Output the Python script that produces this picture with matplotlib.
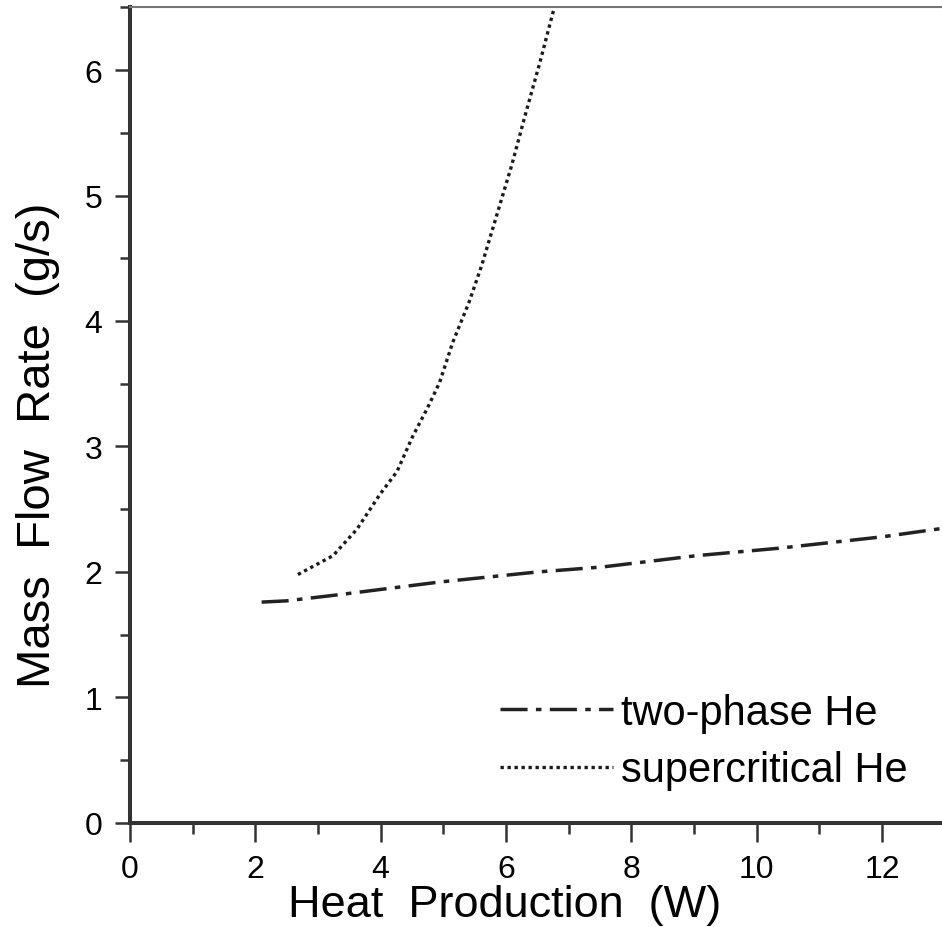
import matplotlib
matplotlib.use("Agg")
import matplotlib.pyplot as plt
from matplotlib.ticker import MultipleLocator
import numpy as np

plt.rcParams['font.family'] = ['Liberation Sans', 'DejaVu Sans']

# two-phase He (dash-dot)
heat_2ph = [2.1, 2.5, 3.35, 4.94, 6.5, 7.54, 9.04, 10.37, 12.0, 13.0]
flow_2ph = [1.76, 1.77, 1.82, 1.92, 2.00, 2.04, 2.13, 2.19, 2.28, 2.35]

# supercritical He (dotted)
heat_sc = [2.68, 3.24, 3.62, 3.99, 4.26, 4.51, 4.74, 4.94, 5.15, 5.41,
           5.61, 5.85, 6.09, 6.30, 6.54, 6.75, 6.80]
flow_sc = [1.98, 2.13, 2.34, 2.62, 2.80, 3.08, 3.30, 3.51, 3.83, 4.15,
           4.44, 4.84, 5.24, 5.63, 6.06, 6.46, 6.56]

fig = plt.figure(figsize=(9.42, 9.28), dpi=100)
ax = fig.add_axes([0.138, 0.1121, 0.8649, 0.879])

ax.plot(heat_2ph, flow_2ph, color='#222222', lw=2.5,
        dashes=(7.8, 2.4, 1.6, 2.4), label='two-phase He')
ax.plot(heat_sc, flow_sc, color='#1a1a1a', lw=2.4,
        dashes=(1.0, 1.1), label='supercritical He')

ax.set_xlim(0, 13)
ax.set_ylim(0, 6.5)
ax.xaxis.set_major_locator(MultipleLocator(2))
ax.xaxis.set_minor_locator(MultipleLocator(1))
ax.yaxis.set_major_locator(MultipleLocator(1))
ax.yaxis.set_minor_locator(MultipleLocator(0.5))

ax.spines['right'].set_visible(False)
for s in ['left', 'bottom']:
    ax.spines[s].set_linewidth(2.9)
    ax.spines[s].set_color('#333333')
ax.spines['top'].set_linewidth(1.5)
ax.spines['top'].set_color('#777777')

ax.tick_params(axis='x', which='major', direction='out', length=14, width=1.8,
               color='#333333', pad=8, labelsize=23)
ax.tick_params(axis='x', which='minor', direction='out', length=8, width=1.8,
               color='#333333')
ax.tick_params(axis='y', which='major', direction='out', length=11, width=1.8,
               color='#333333', pad=9, labelsize=23)
ax.tick_params(axis='y', which='minor', direction='out', length=7, width=1.8,
               color='#333333')

ax.set_xlabel('Heat  Production  (W)', fontsize=32.5)
ax.xaxis.set_label_coords((505 - 130) / 814.7, (824 - 885) / 815.75)
ax.set_ylabel('Mass  Flow  Rate  (g/s)', fontsize=34)
ax.yaxis.set_label_coords((60 - 130) / 814.7, (824 - 445) / 815.75)

ax.legend(loc='upper left', bbox_to_anchor=(500 / 942, 1 - 694 / 928),
          bbox_transform=fig.transFigure, frameon=False, fontsize=30,
          handlelength=2.7, handletextpad=0.2, borderpad=0, borderaxespad=0,
          labelspacing=0.42)

fig.savefig('out.png', dpi=100)
